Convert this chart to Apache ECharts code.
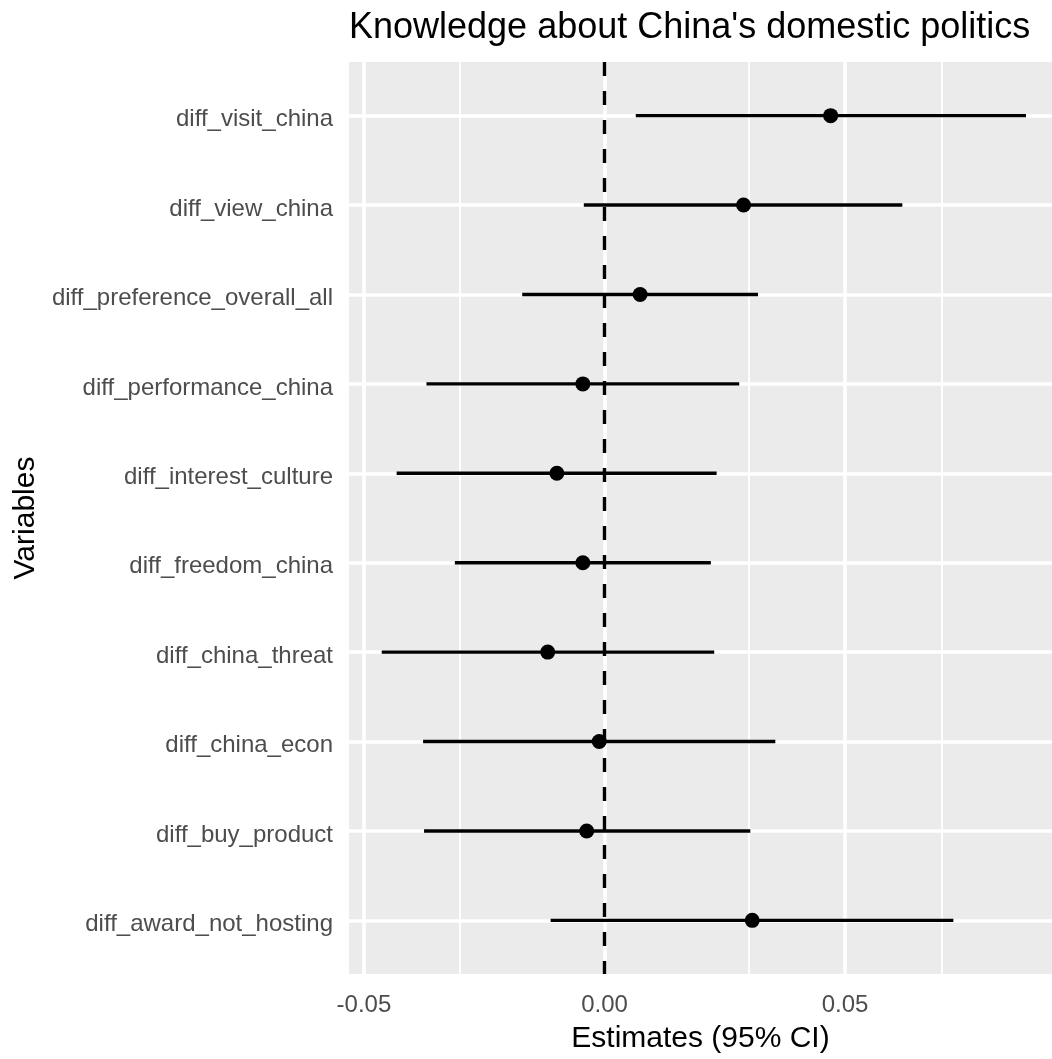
<!DOCTYPE html>
<html>
<head>
<meta charset="utf-8">
<script src="https://cdn.jsdelivr.net/npm/echarts@6/dist/echarts.min.js"></script>
<style>
html,body{margin:0;padding:0;background:#fff;}
#chart{width:1052px;height:1059px;}
</style>
</head>
<body>
<div id="chart"></div>
<script>
// ---- data ----
const categories = ['diff_visit_china','diff_view_china','diff_preference_overall_all','diff_performance_china','diff_interest_culture','diff_freedom_china','diff_china_threat','diff_china_econ','diff_buy_product','diff_award_not_hosting'];
const estimates = [0.0470, 0.0289, 0.0074, -0.0045, -0.0099, -0.0045, -0.0118, -0.0011, -0.0037, 0.0307];
const lower     = [0.0065, -0.0043, -0.0171, -0.0370, -0.0432, -0.0311, -0.0463, -0.0377, -0.0375, -0.0112];
const upper     = [0.0876, 0.0619, 0.0319, 0.0280, 0.0233, 0.0221, 0.0228, 0.0355, 0.0303, 0.0725];
const xMajorTicks = [-0.05, 0, 0.05];
const xMinorTicks = [-0.025, 0.025, 0.075];
const xTickLabels = ['-0.05', '0.00', '0.05'];
const refLine = 0;

const FONT = '"Liberation Sans", Arial, Helvetica, sans-serif';
const chart = echarts.init(document.getElementById('chart'), null, {renderer: 'canvas'});

const catIdx = categories.map((c, i) => i);
const barData = categories.map((c, i) => [lower[i], upper[i], i]);
const pointData = categories.map((c, i) => [estimates[i], i]);

const gridLines = []
  .concat(xMajorTicks.map(v => ({xAxis: v, lineStyle: {color: '#ffffff', width: 3.6, type: 'solid'}})))
  .concat(xMinorTicks.map(v => ({xAxis: v, lineStyle: {color: '#ffffff', width: 1.9, type: 'solid'}})))
  .concat(catIdx.map(i => ({yAxis: i, lineStyle: {color: '#ffffff', width: 3.6, type: 'solid'}})));

const option = {
  animation: false,
  backgroundColor: '#ffffff',
  title: {
    text: "Knowledge about China's domestic politics",
    left: 349, top: 10, padding: 0,
    textStyle: {fontFamily: FONT, fontSize: 36, fontWeight: 'normal', color: '#000000'}
  },
  grid: {
    left: 349, right: 0, top: 62, bottom: 80,
    show: true, backgroundColor: '#EBEBEB', borderWidth: 0
  },
  xAxis: {
    type: 'value',
    min: -0.0531, max: 0.0930,
    name: 'Estimates (95% CI)',
    nameLocation: 'middle', nameGap: 50,
    nameTextStyle: {fontFamily: FONT, fontSize: 30, color: '#000000'},
    axisLine: {show: false},
    splitLine: {show: false},
    axisTick: {show: true, length: 8, lineStyle: {color: '#333333', width: 2}, customValues: xMajorTicks},
    axisLabel: {
      customValues: xMajorTicks,
      margin: 19,
      fontFamily: FONT, fontSize: 24, color: '#4D4D4D',
      formatter: v => { const k = xMajorTicks.findIndex(t => Math.abs(t - v) < 1e-9); return k >= 0 ? xTickLabels[k] : ''; }
    }
  },
  yAxis: {
    type: 'value',
    min: -0.6, max: 9.6,
    inverse: true,
    name: 'Variables',
    nameLocation: 'middle', nameGap: 305,
    nameTextStyle: {fontFamily: FONT, fontSize: 30, color: '#000000'},
    axisLine: {show: false},
    splitLine: {show: false},
    axisTick: {show: true, length: 8, lineStyle: {color: '#333333', width: 2}, customValues: catIdx},
    axisLabel: {
      customValues: catIdx,
      margin: 16, fontFamily: FONT, fontSize: 24, color: '#4D4D4D',
      verticalAlign: 'top', lineHeight: 8,
      formatter: v => categories[Math.round(v)] || ''
    }
  },
  series: [
    {
      type: 'line', data: [], z: 1, silent: true,
      markLine: {z: 1, silent: true, symbol: ['none', 'none'], label: {show: false}, animation: false, data: gridLines}
    },
    {
      type: 'line', data: [], z: 2, silent: true,
      markLine: {z: 2, silent: true, symbol: ['none', 'none'], label: {show: false}, animation: false,
        data: [{xAxis: refLine, lineStyle: {color: '#000000', width: 3.4, type: [14, 15]}}]}
    },
    {
      type: 'custom', z: 3, silent: true,
      encode: {x: [0, 1], y: 2},
      data: barData,
      renderItem: (params, api) => {
        const p1 = api.coord([api.value(0), api.value(2)]);
        const p2 = api.coord([api.value(1), api.value(2)]);
        return {type: 'line', shape: {x1: p1[0], y1: p1[1], x2: p2[0], y2: p2[1]},
          style: {stroke: '#000000', lineWidth: 3.4}};
      }
    },
    {
      type: 'scatter', z: 4, silent: true,
      data: pointData, symbol: 'circle', symbolSize: 15,
      itemStyle: {color: '#000000', opacity: 1}
    }
  ]
};
chart.setOption(option);
</script>
</body>
</html>
